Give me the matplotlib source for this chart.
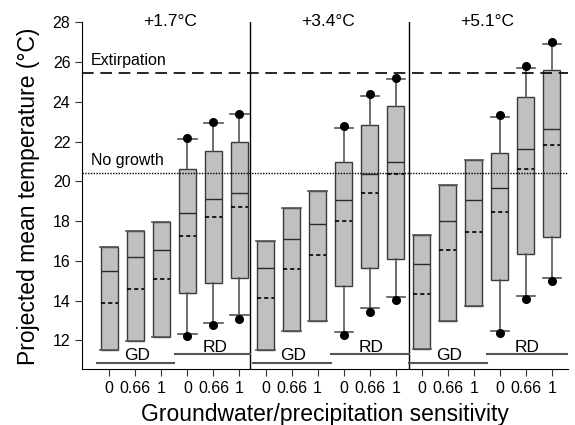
import matplotlib
matplotlib.use("Agg")
import matplotlib.pyplot as plt
import numpy as np

plt.rcParams['font.family'] = ['Liberation Sans', 'DejaVu Sans']

# warming scenarios and sensitivity levels
scenarios = ['+1.7°C', '+3.4°C', '+5.1°C']
sens_labels = ['0', '0.66', '1', '0', '0.66', '1']
groups = ['GD', 'RD']

# box statistics, 6 boxes per scenario (3 GD then 3 RD)
q3 = [16.69, 17.53, 17.95, 20.60, 21.54, 22.00,
      17.00, 18.66, 19.51, 20.99, 22.85, 23.79,
      17.32, 19.82, 21.09, 21.42, 24.23, 25.60]
q1 = [11.50, 11.97, 12.20, 14.40, 14.88, 15.13,
      11.53, 12.47, 12.97, 14.72, 15.64, 16.11,
      11.56, 12.97, 13.73, 15.02, 16.36, 17.22]
med = [15.49, 16.19, 16.56, 18.43, 19.09, 19.43,
       15.66, 17.10, 17.84, 19.04, 20.35, 21.00,
       15.84, 17.99, 19.08, 19.66, 21.61, 22.65]
mean = [13.88, 14.60, 15.08, 17.23, 18.20, 18.70,
        14.13, 15.57, 16.28, 18.00, 19.41, 20.39,
        14.33, 16.54, 17.47, 18.46, 20.62, 21.84]

# whiskers and end points, RD boxes only
whis_hi = [22.15, 22.93, 23.37, 22.70, 24.30, 25.15, 23.24, 25.70, 26.90]
whis_lo = [12.34, 12.90, 13.26, 12.42, 13.63, 14.21, 12.47, 14.26, 15.15]
dot_hi = [22.20, 22.98, 23.40, 22.78, 24.38, 25.20, 23.36, 25.80, 27.02]
dot_lo = [12.22, 12.79, 13.09, 12.30, 13.44, 14.05, 12.37, 14.10, 14.98]

extirpation = 25.45
no_growth = 20.40

fig = plt.figure(figsize=(5.75, 4.25), dpi=100)
ax = fig.add_axes([0.143, 0.131, 0.845, 0.8165])

pos = np.arange(1, 19)
stats = []
k = 0
for i in range(18):
    s = {'med': med[i], 'q1': q1[i], 'q3': q3[i], 'mean': mean[i]}
    if i % 6 < 3:
        s['whislo'] = q1[i]
        s['whishi'] = q3[i]
        s['fliers'] = []
    else:
        s['whislo'] = whis_lo[k]
        s['whishi'] = whis_hi[k]
        s['fliers'] = [dot_lo[k], dot_hi[k]]
        k += 1
    stats.append(s)

ax.bxp(stats, positions=pos, widths=0.65, patch_artist=True,
       showmeans=True, meanline=True, showfliers=True,
       boxprops=dict(facecolor='#c0c0c0', edgecolor='#3a3a3a', linewidth=1.0),
       medianprops=dict(color='#2a2a2a', linewidth=1.0),
       meanprops=dict(color='black', linestyle=(0, (2.5, 1.8)), linewidth=1.2),
       whiskerprops=dict(color='#555555', linewidth=1.2),
       capprops=dict(color='#555555', linewidth=1.2),
       capwidths=0.7,
       flierprops=dict(marker='o', markerfacecolor='black', markeredgecolor='black',
                       markersize=5.5, linestyle='none'))

# thresholds
ax.axhline(extirpation, color='black', linestyle=(0, (7, 4)), linewidth=1.2)
ax.axhline(no_growth, color='black', linestyle=(0, (1, 1)), linewidth=1.0)
ax.text(0.3, extirpation + 0.25, 'Extirpation', fontsize=11.5, va='bottom', ha='left')
ax.text(0.3, no_growth + 0.25, 'No growth', fontsize=11.5, va='bottom', ha='left')

# panel separators
for xs in [6.42, 12.5]:
    ax.axvline(xs, color='black', linewidth=1.0)

# scenario titles and group lines
title_x = [3.34, 9.4, 15.5]
starts = [1, 7, 13]
ends = [6.42, 12.5, 18.57]
for j in range(3):
    ax.text(title_x[j], 28.05, scenarios[j], fontsize=12.5, ha='center', va='center')
    s = starts[j]
    ax.plot([s - 0.48, s + 2.5], [10.88, 10.88], color='#555555', linewidth=1.5)
    ax.plot([s + 2.52, ends[j]], [11.3, 11.3], color='#555555', linewidth=1.5)
    ax.text(s + 1.05, 10.86, groups[0], fontsize=12.5, ha='center', va='bottom')
    ax.text(s + 4.05, 11.28, groups[1], fontsize=12.5, ha='center', va='bottom')

ax.set_xlim(-0.04, 18.62)
ax.set_ylim(10.55, 28)
ax.set_yticks(np.arange(12, 29, 2))
ax.set_xticks(pos)
ax.set_xticklabels(sens_labels * 3, fontsize=11.5)
ax.tick_params(axis='y', labelsize=11.5)
ax.tick_params(direction='out', length=5, color='#333333')
ax.spines['top'].set_visible(False)
ax.spines['right'].set_visible(False)
ax.set_xlabel('Groundwater/precipitation sensitivity', fontsize=16.5, labelpad=5)
ax.set_ylabel('Projected mean temperature (°C)', fontsize=16.5, labelpad=9)

fig.savefig('out.png', dpi=100)
